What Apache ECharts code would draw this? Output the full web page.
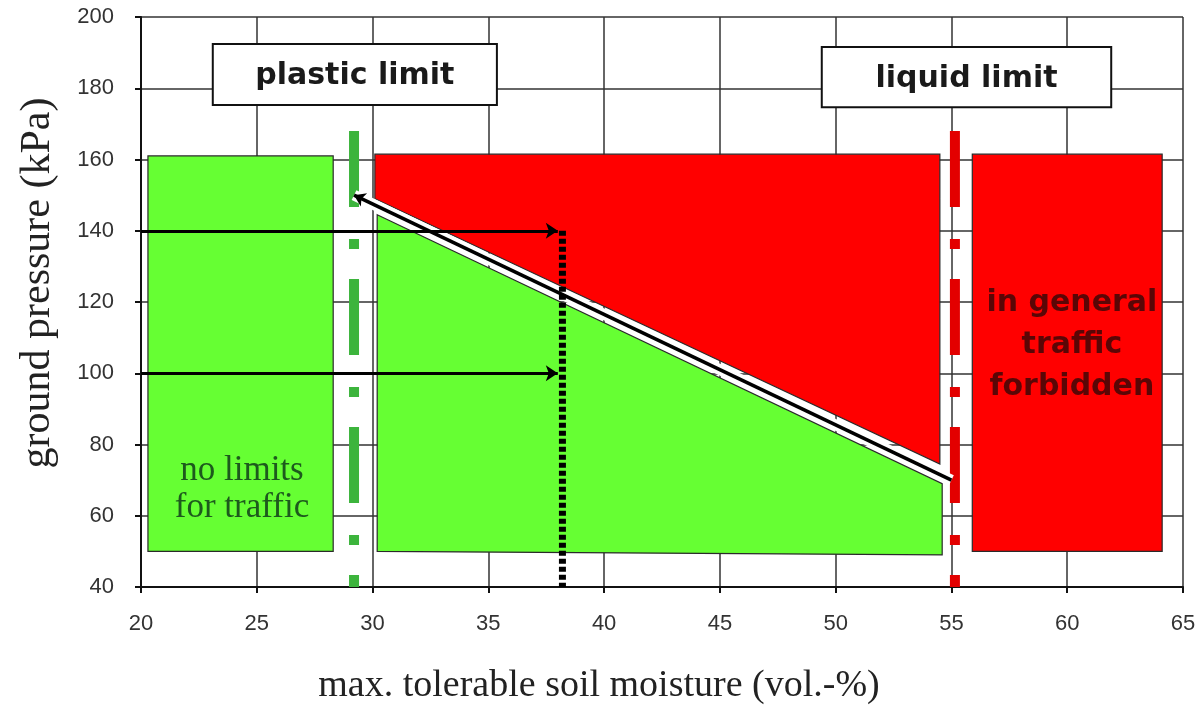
<!DOCTYPE html>
<html><head><meta charset="utf-8">
<script src="https://cdn.jsdelivr.net/npm/echarts@6/dist/echarts.min.js"></script>
<style>html,body{margin:0;padding:0;background:#fff}#c{width:1204px;height:715px}</style>
</head><body><div id="c"></div>
<script>
// ---- data ----
const xRange = [20, 65, 5];
const yRange = [40, 200, 20];
const zoneRects = [[20.3, 50, 28.3, 161], [55.9, 50, 64.1, 161.5]]; // [x0,y0,x1,y1]
const zoneRectColors = ['#66ff33', '#ff0000'];
const redZone = [[30.1, 161.5], [54.5, 161.5], [54.5, 74.5], [30.1, 149]];
const greenZone = [[30.2, 144.5], [54.6, 69], [54.6, 49], [30.2, 50]];
const criticalLine = [[29.2, 150], [55, 70]];
const plasticLimit = 29.2;
const liquidLimit = 55.15;
const limitLineRange = [168, 40];
const arrowLevels = [140, 100];
const arrowFromTo = [20, 38.0];
const readoutX = 38.2;
const readoutRange = [140, 40];
const labelBoxes = [[23.1, 175.3, 35.37, 192.4], [49.4, 174.7, 61.9, 191.6]];
const labelBoxTexts = ['plastic limit', 'liquid limit'];
const noLimitsPos = [24.36, 67.3];
const noLimitsText = 'no limits\nfor traffic';
const forbiddenPos = [60.2, 108];
const forbiddenText = 'in general\ntraffic\nforbidden';

const chart = echarts.init(document.getElementById('c'));

function rectItem(params, api) {
  const p0 = api.coord([api.value(0), api.value(3)]);
  const p1 = api.coord([api.value(2), api.value(1)]);
  return {
    type: 'rect',
    shape: { x: p0[0], y: p0[1], width: p1[0] - p0[0], height: p1[1] - p0[1] },
    style: { fill: zoneRectColors[params.dataIndex], stroke: '#2a2a2a', lineWidth: 1.2 }
  };
}
const polys = [redZone, greenZone];
const polyColors = ['#ff0000', '#66ff33'];
function polyItem(params, api) {
  const pts = polys[api.value(0)].map(p => api.coord(p));
  return {
    type: 'polygon',
    shape: { points: pts },
    style: { fill: polyColors[api.value(0)], stroke: '#2a2a2a', lineWidth: 1.2 }
  };
}
function boxItem(params, api) {
  const p0 = api.coord([api.value(0), api.value(3)]);
  const p1 = api.coord([api.value(2), api.value(1)]);
  return {
    type: 'group',
    children: [
      { type: 'rect', shape: { x: p0[0], y: p0[1], width: p1[0] - p0[0], height: p1[1] - p0[1] },
        style: { fill: '#fff', stroke: '#111', lineWidth: 2 } },
      { type: 'text', x: (p0[0] + p1[0]) / 2, y: (p0[1] + p1[1]) / 2 + 2,
        style: { text: labelBoxTexts[params.dataIndex], font: 'bold 30px "DejaVu Sans"', fill: '#1a1a1a',
          align: 'center', verticalAlign: 'middle' } }
    ]
  };
}
const freeTexts = [
  { pos: noLimitsPos, text: noLimitsText, font: '35px "Liberation Serif"', fill: '#1d5a1d', lh: 37 },
  { pos: forbiddenPos, text: forbiddenText, font: 'bold 30px "DejaVu Sans"', fill: '#5a0606', lh: 42 }
];
function textItem(params, api) {
  const t = freeTexts[params.dataIndex];
  const p = api.coord([api.value(0), api.value(1)]);
  return { type: 'text', x: p[0], y: p[1],
    style: { text: t.text, font: t.font, fill: t.fill, align: 'center', verticalAlign: 'middle', lineHeight: t.lh } };
}

const axisCommon = {
  type: 'value',
  axisLine: { show: true, onZero: false, lineStyle: { color: '#111', width: 2 } },
  axisTick: { show: true, inside: false, length: 6, lineStyle: { color: '#111', width: 2 } },
  splitLine: { show: true, lineStyle: { color: '#333', width: 1.5 } },
  axisLabel: { fontFamily: 'Liberation Sans', fontSize: 22, color: '#333' }
};

chart.setOption({
  animation: false,
  backgroundColor: '#fff',
  grid: { left: 141, right: 21, top: 17, bottom: 128 },
  xAxis: Object.assign({}, axisCommon, {
    min: xRange[0], max: xRange[1], interval: xRange[2],
    axisLabel: Object.assign({}, axisCommon.axisLabel, { margin: 26 }),
    name: 'max. tolerable soil moisture (vol.-%)', nameLocation: 'middle', nameGap: 80,
    nameTextStyle: { fontFamily: 'Liberation Serif', fontSize: 38, color: '#222', padding: [0, 126, 0, 0] }
  }),
  yAxis: Object.assign({}, axisCommon, {
    min: yRange[0], max: yRange[1], interval: yRange[2],
    axisLabel: Object.assign({}, axisCommon.axisLabel, { margin: 27 }),
    name: 'ground pressure (kPa)', nameLocation: 'middle', nameGap: 82,
    nameTextStyle: { fontFamily: 'Liberation Serif', fontSize: 42, color: '#222', padding: [0, 0, 0, 38] }
  }),
  series: [
    { type: 'custom', silent: true, z: 2, renderItem: rectItem, data: zoneRects, encode: { x: [0, 2], y: [1, 3] } },
    { type: 'custom', silent: true, z: 2, renderItem: polyItem, data: [[0], [1]] },
    { type: 'custom', silent: true, z: 3, renderItem: boxItem, data: labelBoxes, encode: { x: [0, 2], y: [1, 3] } },
    { type: 'line', silent: true, z: 4, symbol: 'none',
      data: [[plasticLimit, limitLineRange[0]], [plasticLimit, limitLineRange[1]]],
      lineStyle: { color: '#3cb43c', width: 10, type: [76, 32, 10, 30], cap: 'butt' } },
    { type: 'line', silent: true, z: 4, symbol: 'none',
      data: [[liquidLimit, limitLineRange[0]], [liquidLimit, limitLineRange[1]]],
      lineStyle: { color: '#e30000', width: 10, type: [76, 32, 10, 30], cap: 'butt' } },
    { type: 'line', silent: true, z: 5, symbol: 'none', data: criticalLine,
      lineStyle: { color: '#fff', width: 11 } },
    { type: 'lines', coordinateSystem: 'cartesian2d', silent: true, z: 6,
      symbol: ['arrow', 'none'], symbolSize: 11,
      data: [{ coords: criticalLine }],
      lineStyle: { color: '#000', width: 3.5, opacity: 1 } },
    { type: 'lines', coordinateSystem: 'cartesian2d', silent: true, z: 6,
      symbol: ['none', 'arrow'], symbolSize: 12,
      data: arrowLevels.map(v => ({ coords: [[arrowFromTo[0], v], [arrowFromTo[1], v]] })),
      lineStyle: { color: '#000', width: 3, opacity: 1 } },
    { type: 'line', silent: true, z: 6, symbol: 'none',
      data: [[readoutX, readoutRange[0]], [readoutX, readoutRange[1]]],
      lineStyle: { color: '#000', width: 7, type: [5, 3], cap: 'butt' } },
    { type: 'custom', silent: true, z: 7, renderItem: textItem, data: [noLimitsPos, forbiddenPos] }
  ]
});
</script></body></html>
